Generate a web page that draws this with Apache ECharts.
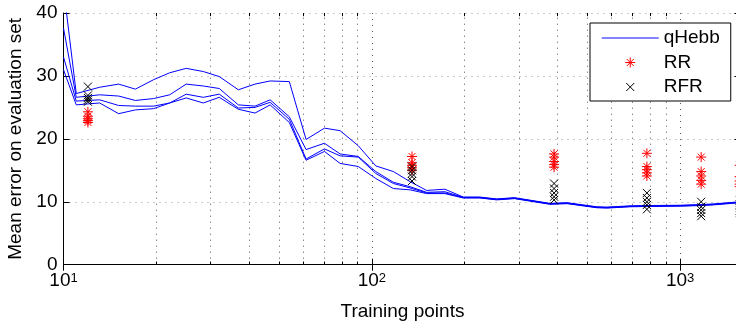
<!DOCTYPE html>
<html>
<head>
<meta charset="utf-8">
<script src="https://cdn.jsdelivr.net/npm/echarts@6/dist/echarts.min.js"></script>
<style>
  html, body { margin: 0; padding: 0; background: #fff; }
  #chart { width: 736px; height: 327px; }
</style>
</head>
<body>
<div id="chart"></div>
<script>
// training set sizes where qHebb was evaluated
var trainX = [10, 11, 13.1, 15.1, 17.1, 19.6, 22.1, 25, 28.4, 32, 36.9, 41.8, 46.8, 54, 61.2, 70.2, 78.9, 90.4,
  103, 117.5, 133, 150.6, 172.5, 198, 224, 254, 290, 378, 430, 537, 579, 687, 780, 1000, 1161, 1280, 1518, 1580];

// four qHebb runs
var hebbA = [44, 27.2, 28.2, 28.7, 27.9, 29.4, 30.5, 31.2, 30.7, 29.9, 27.8, 28.7, 29.2, 29.1, 19.9, 21.7, 21.3, 18.9,
  15.7, 14.8, 13.2, 11.8, 12.0, 10.75, 10.75, 10.45, 10.65, 9.75, 9.85, 9.2, 9.15, 9.35, 9.4, 9.45, 9.55, 9.65, 9.95, 10.05];
var hebbB = [37.6, 26.6, 27.0, 26.8, 26.1, 26.4, 27.0, 28.7, 28.4, 28.0, 25.4, 25.2, 26.2, 23.5, 18.3, 19.3, 17.6, 17.2,
  14.8, 13.1, 12.4, 11.5, 11.6, 10.7, 10.7, 10.4, 10.6, 9.7, 9.8, 9.15, 9.1, 9.3, 9.35, 9.4, 9.5, 9.6, 9.9, 10.0];
var hebbC = [33, 26.0, 26.2, 25.3, 25.2, 25.2, 25.7, 27.1, 26.6, 27.1, 24.9, 25.0, 25.8, 23.1, 16.8, 18.4, 17.3, 17.1,
  14.5, 12.9, 12.2, 11.4, 11.4, 10.65, 10.65, 10.35, 10.55, 9.65, 9.75, 9.1, 9.05, 9.25, 9.3, 9.35, 9.45, 9.55, 9.85, 9.95];
var hebbD = [31, 25.4, 25.7, 24.0, 24.6, 24.8, 25.7, 26.5, 25.7, 26.6, 24.7, 24.1, 25.4, 22.6, 16.6, 18.0, 16.1, 15.6,
  13.7, 12.1, 11.9, 11.3, 11.3, 10.6, 10.6, 10.3, 10.5, 9.6, 9.7, 9.05, 9.0, 9.2, 9.25, 9.3, 9.4, 9.5, 9.8, 9.9];

// RR / RFR results, 5 runs per training size
var markX = [12, 135, 390, 780, 1170, 1560];
var rrY = [
  [24.3, 23.6, 23.2, 22.9, 22.6],
  [17.2, 16.2, 15.8, 15.4, 15.0],
  [17.6, 17.1, 16.4, 15.9, 15.5],
  [17.7, 15.6, 15.1, 14.6, 14.1],
  [17.1, 14.8, 14.1, 13.4, 12.8],
  [15.8, 14.0, 13.3, 12.8, 12.4]
];
var rfrY = [
  [28.3, 26.9, 26.5, 26.2, 25.9],
  [15.6, 15.0, 14.5, 14.0, 13.3],
  [12.9, 12.1, 11.4, 10.8, 10.3],
  [11.4, 10.6, 10.0, 9.5, 8.8],
  [10.0, 9.2, 8.7, 8.2, 7.7],
  [10.2, 9.6, 9.0, 8.6, 8.2]
];

// minor log ticks (2..9 x 10^k)
var minorX = [20, 30, 40, 50, 60, 70, 80, 90, 200, 300, 400, 500, 600, 700, 800, 900];

var FONT = '"Liberation Sans", Arial, Helvetica, sans-serif';
var STAR = 'path://M5,0L5,10M0,5L10,5M1.5,1.5L8.5,8.5M8.5,1.5L1.5,8.5';
var CROSS = 'path://M0,0M10,10M1,1L9,9M9,1L1,9';

function pairs(xs, ys) {
  return xs.map(function (x, i) { return [x, ys[i]]; });
}
function clusters(xs, groups) {
  var out = [];
  xs.forEach(function (x, i) {
    groups[i].forEach(function (y) { out.push([x, y]); });
  });
  return out;
}

var gridMarks = minorX.map(function (v) { return { xAxis: v }; });
var tickMarks = [];
minorX.forEach(function (v) {
  tickMarks.push([{ coord: [v, 0] }, { coord: [v, 0.5] }]);
  tickMarks.push([{ coord: [v, 40] }, { coord: [v, 39.5] }]);
});

function hebbSeries(ys) {
  return {
    name: 'qHebb',
    type: 'line',
    data: pairs(trainX, ys),
    symbol: 'none',
    clip: true,
    lineStyle: { color: '#0000ff', width: 1 },
    z: 3
  };
}

var chart = echarts.init(document.getElementById('chart'));

chart.setOption({
  animation: false,
  textStyle: { fontFamily: FONT, color: '#000' },
  grid: {
    left: 63.5, top: 13, width: 677.9, height: 251.7,
    containLabel: false, outerBoundsMode: 'none'
  },
  legend: {
    orient: 'vertical',
    left: 590,
    top: 23,
    padding: [5, 11, 4, 11],
    itemWidth: 57,
    itemHeight: 10,
    itemGap: 4.5,
    selectedMode: false,
    backgroundColor: '#fff',
    borderColor: '#000',
    borderWidth: 1,
    borderRadius: 0,
    textStyle: { fontSize: 19, lineHeight: 20, color: '#000', fontFamily: FONT },
    data: [
      { name: 'qHebb', icon: 'line', itemStyle: { color: '#5a5aff', borderColor: '#5a5aff', borderWidth: 1.5 } },
      { name: 'RR', icon: STAR, itemStyle: { color: 'transparent', borderColor: '#ff0000', borderWidth: 1 } },
      { name: 'RFR', icon: CROSS, itemStyle: { color: 'transparent', borderColor: '#000', borderWidth: 1 } }
    ],
    z: 10
  },
  xAxis: [{
    type: 'log',
    logBase: 10,
    min: 10,
    max: 1580,
    position: 'bottom',
    name: 'Training points',
    nameLocation: 'middle',
    nameGap: 34,
    nameTextStyle: { fontSize: 19, color: '#000' },
    axisLine: { lineStyle: { color: '#000', width: 1 } },
    axisTick: { inside: true, length: 6, lineStyle: { color: '#000' } },
    axisLabel: {
      margin: 7,
      color: '#000',
      showMaxLabel: false,
      formatter: function (v) {
        return '{b|10}{s|' + Math.round(Math.log10(v)) + '}';
      },
      rich: {
        b: { fontSize: 19, lineHeight: 19, verticalAlign: 'bottom', fontFamily: FONT, color: '#000' },
        s: { fontSize: 13, lineHeight: 13, padding: [0, 0, 13, 0], verticalAlign: 'top', fontFamily: FONT, color: '#000' }
      }
    },
    splitLine: { show: true, lineStyle: { color: '#555', type: [1, 5] } }
  }, {
    type: 'log',
    logBase: 10,
    min: 10,
    max: 1580,
    position: 'top',
    axisLine: { lineStyle: { color: '#000', width: 1 } },
    axisTick: { inside: true, length: 6, lineStyle: { color: '#000' } },
    axisLabel: { show: false },
    splitLine: { show: false }
  }],
  yAxis: [{
    type: 'value',
    min: 0,
    max: 40,
    interval: 10,
    name: 'Mean error on evaluation set',
    nameLocation: 'middle',
    nameGap: 37,
    nameTextStyle: { fontSize: 19, color: '#000' },
    axisLine: { show: true, lineStyle: { color: '#000', width: 1 } },
    axisTick: { show: true, inside: true, length: 6, lineStyle: { color: '#000' } },
    axisLabel: { fontSize: 19, margin: 6, color: '#000' },
    splitLine: { show: true, lineStyle: { color: '#999', type: [1, 5] } }
  }, {
    type: 'value',
    min: 0,
    max: 40,
    interval: 10,
    position: 'right',
    axisLine: { show: true, lineStyle: { color: '#000', width: 1 } },
    axisTick: { show: true, inside: true, length: 7, lineStyle: { color: '#000' } },
    axisLabel: { show: false },
    splitLine: { show: false }
  }],
  series: [
    {
      name: 'gridlines',
      type: 'line',
      data: [],
      silent: true,
      z: 1,
      markLine: {
        silent: true,
        z: 1,
        symbol: ['none', 'none'],
        label: { show: false },
        lineStyle: { color: '#555', width: 1, type: [1, 5] },
        data: gridMarks
      }
    },
    {
      name: 'minorticks',
      type: 'line',
      data: [],
      silent: true,
      z: 1,
      markLine: {
        silent: true,
        z: 4,
        symbol: ['none', 'none'],
        label: { show: false },
        lineStyle: { color: '#000', width: 1, type: 'solid' },
        data: tickMarks
      }
    },
    hebbSeries(hebbA),
    hebbSeries(hebbB),
    hebbSeries(hebbC),
    hebbSeries(hebbD),
    {
      name: 'RR',
      type: 'scatter',
      data: clusters(markX, rrY),
      symbol: STAR,
      symbolSize: 10,
      itemStyle: { color: 'transparent', borderColor: '#ff0000', borderWidth: 1, opacity: 1 },
      z: 4
    },
    {
      name: 'RFR',
      type: 'scatter',
      data: clusters(markX, rfrY),
      symbol: CROSS,
      symbolSize: 10,
      itemStyle: { color: 'transparent', borderColor: '#000', borderWidth: 1, opacity: 1 },
      z: 5
    }
  ]
});
</script>
</body>
</html>
